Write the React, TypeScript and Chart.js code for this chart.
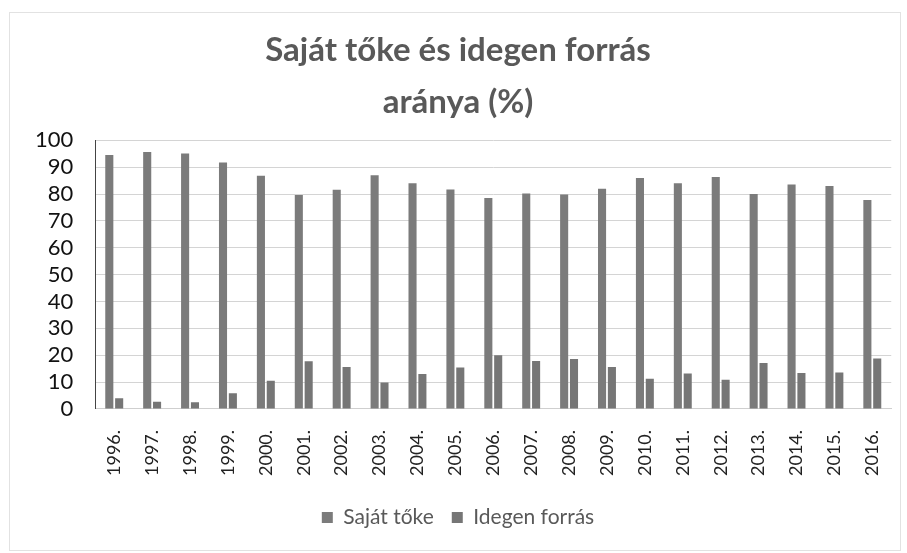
import React, { useEffect, useRef } from "react";
import { Chart, registerables } from "chart.js";

Chart.register(...registerables);

const years = ["1996.", "1997.", "1998.", "1999.", "2000.", "2001.", "2002.", "2003.", "2004.", "2005.", "2006.", "2007.", "2008.", "2009.", "2010.", "2011.", "2012.", "2013.", "2014.", "2015.", "2016."];
const sajatToke = [94.5, 95.6, 95.1, 91.7, 86.8, 79.6, 81.6, 87.0, 84.0, 81.7, 78.5, 80.2, 79.8, 82.0, 86.0, 84.0, 86.3, 80.0, 83.5, 83.0, 77.8];
const idegenForras = [4.0, 2.7, 2.5, 5.9, 10.5, 17.8, 15.6, 9.9, 13.0, 15.4, 20.0, 17.9, 18.6, 15.6, 11.3, 13.2, 10.9, 17.1, 13.4, 13.6, 18.8];
const titleLines = ["Saját tőke és idegen forrás", "aránya (%)"];
const seriesNames = ["Saját tőke", "Idegen forrás"];

export default function App() {
  const ref = useRef<HTMLCanvasElement | null>(null);
  useEffect(() => {
    document.body.style.margin = "0";
    const ctx = ref.current!;
    const chart = new Chart(ctx, {
      type: "bar",
      data: {
        labels: years,
        datasets: [
          { label: seriesNames[0], data: sajatToke, backgroundColor: "#7b7b7b", categoryPercentage: 0.52, barPercentage: 0.82 },
          { label: seriesNames[1], data: idegenForras, backgroundColor: "#767676", categoryPercentage: 0.52, barPercentage: 0.82 },
        ],
      },
      options: {
        animation: false,
        responsive: false,
        layout: { padding: { left: 13, right: 4, top: 16, bottom: 15 } },
        plugins: {
          title: {
            display: true,
            text: titleLines,
            color: "#595959",
            font: { family: "Lato", size: 33, weight: "bold", lineHeight: 1.58 },
            padding: { top: 8, bottom: 12 },
          },
          legend: {
            position: "bottom",
            labels: {
              color: "#595959",
              font: { family: "Lato", size: 21 },
              boxWidth: 11,
              boxHeight: 11,
              padding: 18,
            },
          },
          tooltip: { enabled: false },
        },
        scales: {
          x: {
            grid: { display: false },
            border: { color: "#cfcfcf" },
            ticks: {
              color: "#222",
              font: { family: "Lato", size: 18 },
              maxRotation: 90,
              minRotation: 90,
              autoSkip: false,
              padding: 13,
            },
          },
          y: {
            min: 0,
            max: 100,
            grid: { color: "#d4d4d4", drawTicks: false },
            border: { color: "#444", display: true },
            ticks: {
              stepSize: 10,
              autoSkip: false,
              color: "#111",
              font: { family: "Lato", size: 22 },
              padding: 22,
            },
          },
        },
      },
    });
    return () => chart.destroy();
  }, []);
  return (
    <div style={{ width: 907, height: 553, position: "relative", background: "#fff" }}>
      <div style={{ position: "absolute", left: 9, top: 12, width: 890, height: 537, border: "1px solid #e2e2e2" }} />
      <canvas ref={ref} width={907} height={553} style={{ position: "absolute", left: 0, top: 0 }} />
    </div>
  );
}
